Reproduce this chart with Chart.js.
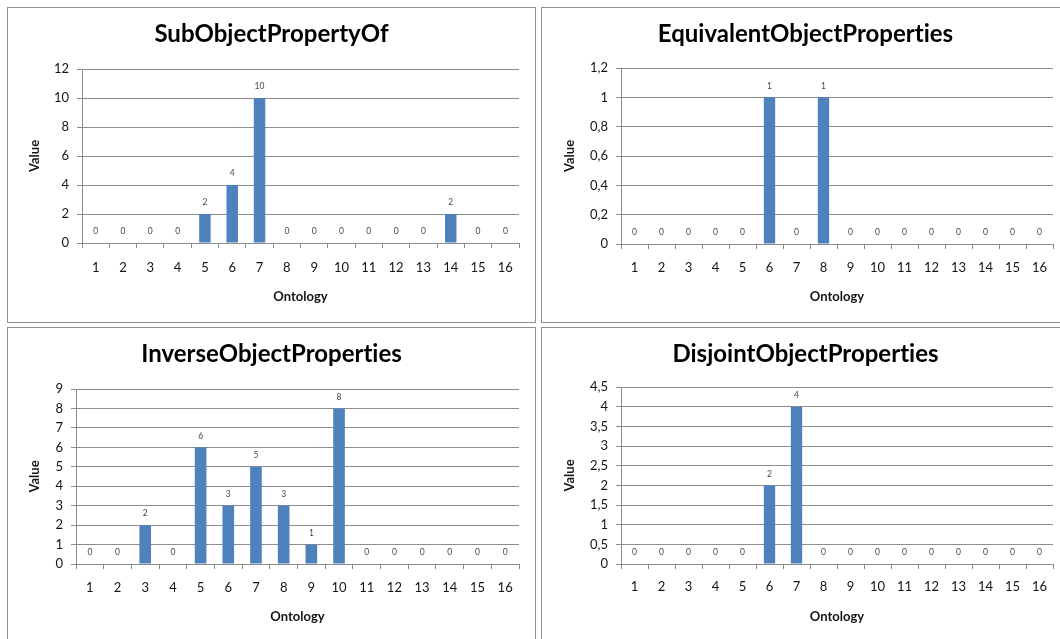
<!DOCTYPE html>
<html>
<head>
<meta charset="utf-8">
<script src="https://cdn.jsdelivr.net/npm/chart.js@4"></script>
<style>
  html, body { margin: 0; padding: 0; background: #fff; }
  body { position: relative; width: 1060px; height: 639px; overflow: hidden; }
  .panel { position: absolute; border: 1px solid #8f8f8f; background: #fff; }
  .panel canvas { display: block; }
</style>
</head>
<body>
<div class="panel" style="left:7px;top:7px"><canvas id="c1" width="527" height="314"></canvas></div>
<div class="panel" style="left:541px;top:7px"><canvas id="c2" width="527" height="314"></canvas></div>
<div class="panel" style="left:7px;top:327px"><canvas id="c3" width="527" height="314"></canvas></div>
<div class="panel" style="left:541px;top:327px"><canvas id="c4" width="527" height="314"></canvas></div>
<script>
// Ontology numbers on the x axis
const ontologies = ['1','2','3','4','5','6','7','8','9','10','11','12','13','14','15','16'];

// Axiom counts per ontology
const subObjectPropertyOf        = [0, 0, 0, 0, 2, 4, 10, 0, 0, 0, 0, 0, 0, 2, 0, 0];
const equivalentObjectProperties = [0, 0, 0, 0, 0, 1, 0, 1, 0, 0, 0, 0, 0, 0, 0, 0];
const inverseObjectProperties    = [0, 0, 2, 0, 6, 3, 5, 3, 1, 8, 0, 0, 0, 0, 0, 0];
const disjointObjectProperties   = [0, 0, 0, 0, 0, 2, 4, 0, 0, 0, 0, 0, 0, 0, 0, 0];

// Value axis ticks of each chart
const subTicks        = [0, 2, 4, 6, 8, 10, 12];
const equivalentTicks = [0, 0.2, 0.4, 0.6, 0.8, 1, 1.2];
const inverseTicks    = [0, 1, 2, 3, 4, 5, 6, 7, 8, 9];
const disjointTicks   = [0, 0.5, 1, 1.5, 2, 2.5, 3, 3.5, 4, 4.5];

const FONT = 'Lato, "Open Sans", "DejaVu Sans", sans-serif';
const BAR = '#4F81BD';
const GRID = '#8c8c8c';
const TEXT = '#141414';

const TITLE_SIZE = 24;
const TICK_SIZE = 13;
const AXIS_TITLE_SIZE = 13;

const fmt = v => String(Math.round(v * 100) / 100).replace('.', ',');

// plain glyphs, no "ti" ligature in the titles
const plainText = {
  id: 'plainText',
  beforeDraw(chart) {
    if ('textRendering' in chart.ctx) chart.ctx.textRendering = 'optimizeSpeed';
  }
};

// value printed above every bar
const valueLabels = {
  id: 'valueLabels',
  afterDatasetsDraw(chart) {
    const ctx = chart.ctx;
    const meta = chart.getDatasetMeta(0);
    const values = chart.data.datasets[0].data;
    ctx.save();
    ctx.font = '8.5px ' + FONT;
    ctx.fillStyle = '#474747';
    ctx.textAlign = 'center';
    ctx.textBaseline = 'middle';
    meta.data.forEach((bar, i) => {
      ctx.fillText(fmt(values[i]), bar.x, bar.y - 11.5);
    });
    ctx.restore();
  }
};

function makeChart(id, title, values, ticks, box) {
  const W = 527, H = 314;
  const side = W - box.right;
  const titleLine = TITLE_SIZE * 1.2;
  const titleTop = 26.5 - titleLine / 2;
  const tickHalf = TICK_SIZE * 1.2 / 2;
  const axisHalf = AXIS_TITLE_SIZE * 1.2 / 2;
  new Chart(document.getElementById(id), {
    type: 'bar',
    data: {
      labels: ontologies,
      datasets: [{
        data: values,
        backgroundColor: BAR,
        borderWidth: 0,
        categoryPercentage: 1,
        barPercentage: 0.42
      }]
    },
    plugins: [plainText, valueLabels],
    options: {
      responsive: false,
      animation: false,
      devicePixelRatio: 1,
      layout: { padding: { left: side, right: side, top: 0, bottom: 0 } },
      plugins: {
        legend: { display: false },
        tooltip: { enabled: false },
        title: {
          display: true,
          text: title,
          color: '#000',
          font: { family: FONT, size: TITLE_SIZE, weight: 'bold' },
          padding: { top: titleTop, bottom: box.top - titleTop - titleLine }
        }
      },
      scales: {
        x: {
          type: 'category',
          offset: true,
          grid: { display: true, offset: true, drawOnChartArea: false, drawTicks: true, tickLength: 5, color: GRID },
          border: { display: true, color: GRID },
          ticks: {
            color: TEXT, font: { family: FONT, size: TICK_SIZE },
            padding: box.xLabel - box.bottom - 5 - tickHalf, maxRotation: 0, autoSkip: false
          },
          title: {
            display: true, text: 'Ontology', color: TEXT,
            font: { family: FONT, size: AXIS_TITLE_SIZE, weight: 'bold' },
            padding: { top: 0, bottom: H - 288.7 - axisHalf }
          },
          afterFit(scale) { scale.height = H - box.bottom; }
        },
        y: {
          min: ticks[0],
          max: ticks[ticks.length - 1],
          grid: { display: true, drawOnChartArea: true, drawTicks: true, tickLength: 5, color: GRID },
          border: { display: true, color: GRID },
          ticks: {
            stepSize: ticks[1] - ticks[0],
            color: TEXT,
            font: { family: FONT, size: TICK_SIZE },
            padding: 8,
            callback: v => fmt(v)
          },
          title: {
            display: true, text: 'Value', color: TEXT,
            font: { family: FONT, size: AXIS_TITLE_SIZE, weight: 'bold' },
            padding: { top: box.valueX - side - axisHalf, bottom: 0 }
          },
          afterFit(scale) { scale.width = box.axis - side; }
        }
      }
    }
  });
}

function drawAll() {
  makeChart('c1', 'SubObjectPropertyOf', subObjectPropertyOf, subTicks,
    { axis: 74, top: 61, bottom: 235, right: 511, xLabel: 260, valueX: 27 });
  makeChart('c2', 'EquivalentObjectProperties', equivalentObjectProperties, equivalentTicks,
    { axis: 79, top: 60, bottom: 236, right: 511, xLabel: 259.7, valueX: 28 });
  makeChart('c3', 'InverseObjectProperties', inverseObjectProperties, inverseTicks,
    { axis: 68, top: 61, bottom: 236, right: 511, xLabel: 260, valueX: 27 });
  makeChart('c4', 'DisjointObjectProperties', disjointObjectProperties, disjointTicks,
    { axis: 79, top: 59, bottom: 236, right: 511, xLabel: 258.7, valueX: 28 });
}

const loads = ['bold 24px Lato', '13px Lato', 'bold 13px Lato', '8px Lato'].map(f => document.fonts.load(f));
Promise.all(loads).then(drawAll, drawAll);
</script>
</body>
</html>
